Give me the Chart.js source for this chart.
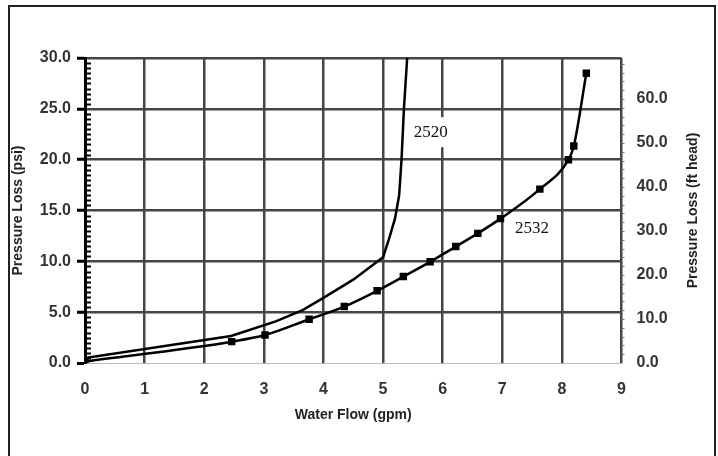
<!DOCTYPE html>
<html>
<head>
<meta charset="utf-8">
<script src="https://cdn.jsdelivr.net/npm/chart.js@4.4.1/dist/chart.umd.min.js"></script>
<style>
    html, body { margin: 0; padding: 0; background: #fff; }
    #wrap { position: relative; width: 718px; height: 456px; overflow: hidden; }
    #frame { position: absolute; left: 8px; top: 5px; width: 708px; height: 480px; border: 2px solid #222; box-sizing: border-box; }
    #chart { position: absolute; left: 0; top: 0; }
</style>
</head>
<body>
<div id="wrap">
    <div id="frame"></div>
    <canvas id="chart" width="718" height="456"></canvas>
</div>
<script>
// water flow (gpm) vs pressure loss (psi)
const flow2520 = [0, 2.45, 3.2, 3.65, 4.0, 4.5, 5.0, 5.1, 5.2, 5.27, 5.31, 5.35, 5.41];
const loss2520 = [0.5, 2.65, 4.1, 5.2, 6.4, 8.2, 10.4, 12.2, 14.2, 16.5, 20, 25, 30.5];

const flow2532 = [0, 2.46, 3.02, 3.76, 4.35, 4.9, 5.34, 5.79, 6.22, 6.59, 6.97, 7.63, 8.11, 8.2, 8.41];
const loss2532 = [0.15, 2.1, 2.75, 4.3, 5.55, 7.1, 8.5, 9.95, 11.45, 12.75, 14.2, 17.1, 20.0, 21.35, 28.5];

const seriesNames = ['2520', '2532'];
const nameAnchors = [[5.8, 22.7], [7.5, 13.25]];

const PSI_TO_FT = 2.31;
const psiMax = 30;

const sans = "'Liberation Sans', Arial, sans-serif";
const serif = "'Liberation Serif', 'Times New Roman', serif";

const toPoints = (xs, ys) => xs.map((x, i) => ({ x, y: ys[i] }));

const extras = {
    id: 'extras',
    afterDatasetsDraw(chart) {
        const { ctx, chartArea } = chart;
        const x = chart.scales.x, y = chart.scales.y, y2 = chart.scales.y2;
        ctx.save();

        // minor ticks on the left axis, every 0.5 psi
        ctx.strokeStyle = '#000';
        ctx.lineWidth = 2;
        for (let v = 0.5; v < psiMax; v += 0.5) {
            if (v % 5 === 0) continue;
            const py = Math.round(y.getPixelForValue(v)) + 0.5;
            ctx.beginPath();
            ctx.moveTo(chartArea.left, py);
            ctx.lineTo(chartArea.left + 6, py);
            ctx.stroke();
        }

        // minor ticks on the right axis, every 2 ft
        ctx.strokeStyle = '#777';
        ctx.lineWidth = 1;
        for (let v = 2; v < psiMax * PSI_TO_FT; v += 2) {
            const py = Math.round(y2.getPixelForValue(v)) + 0.5;
            ctx.beginPath();
            ctx.moveTo(chartArea.right, py);
            ctx.lineTo(chartArea.right + 3, py);
            ctx.stroke();
        }

        // series names
        ctx.font = '17px ' + serif;
        ctx.textAlign = 'center';
        ctx.textBaseline = 'middle';
        seriesNames.forEach((name, i) => {
            const px = x.getPixelForValue(nameAnchors[i][0]);
            const py = y.getPixelForValue(nameAnchors[i][1]);
            const w = ctx.measureText(name).width;
            ctx.fillStyle = '#fff';
            ctx.fillRect(px - w / 2 - 3, py - 15, w + 6, 30);
            ctx.fillStyle = '#111';
            ctx.fillText(name, px, py);
        });

        // right axis title, reading bottom to top
        ctx.font = 'bold 14px ' + sans;
        ctx.fillStyle = '#222';
        ctx.translate(y2.right - 25, (chartArea.top + chartArea.bottom) / 2);
        ctx.rotate(-Math.PI / 2);
        ctx.fillText('Pressure Loss (ft head)', 0, 0);
        ctx.restore();
    }
};

const tickFont = { family: sans, size: 16, weight: 'bold' };
const titleFont = { family: sans, size: 14, weight: 'bold' };

new Chart(document.getElementById('chart'), {
    type: 'line',
    data: {
        datasets: [
            {
                label: seriesNames[0],
                data: toPoints(flow2520, loss2520),
                borderColor: '#000',
                borderWidth: 2.5,
                pointRadius: 0,
                tension: 0
            },
            {
                label: seriesNames[1],
                data: toPoints(flow2532, loss2532),
                borderColor: '#000',
                backgroundColor: '#000',
                borderWidth: 2.5,
                pointStyle: 'rect',
                pointRadius: 3.5,
                cubicInterpolationMode: 'monotone'
            }
        ]
    },
    options: {
        responsive: false,
        animation: false,
        layout: { padding: { top: 58, left: 0, right: 0, bottom: 0 } },
        plugins: { legend: { display: false }, tooltip: { enabled: false } },
        scales: {
            x: {
                type: 'linear',
                min: 0,
                max: 9,
                ticks: { stepSize: 1, padding: 17, color: '#333', font: tickFont },
                grid: {
                    color: (c) => c.tick && c.tick.value === 0 ? 'rgba(0,0,0,0)' : '#454545',
                    lineWidth: 2.5,
                    drawTicks: false
                },
                border: { color: '#bbb', width: 1 },
                title: { display: true, text: 'Water Flow (gpm)', color: '#222', font: titleFont, padding: { top: 0, bottom: 32 } },
                afterFit: (s) => { s.height = 93; }
            },
            y: {
                position: 'left',
                min: 0,
                max: psiMax,
                ticks: { stepSize: 5, padding: 6, color: '#333', font: tickFont, callback: (v) => v.toFixed(1) },
                grid: {
                    color: (c) => c.tick && c.tick.value === 0 ? '#bbb' : '#454545',
                    lineWidth: (c) => c.tick && c.tick.value === 0 ? 1 : 2.5,
                    tickColor: '#000',
                    tickWidth: 3,
                    tickLength: 8
                },
                border: { color: '#000', width: 3 },
                title: { display: true, text: 'Pressure Loss (psi)', color: '#222', font: titleFont, padding: { top: 10, bottom: 0 } },
                afterFit: (s) => { s.width = 85; }
            },
            y2: {
                position: 'right',
                min: 0,
                max: psiMax * PSI_TO_FT,
                ticks: {
                    stepSize: 10,
                    includeBounds: false,
                    padding: 15,
                    color: '#333',
                    font: tickFont,
                    callback: (v) => v % 10 === 0 ? v.toFixed(1) : ''
                },
                grid: { drawOnChartArea: false, drawTicks: false },
                border: { display: false },
                afterFit: (s) => { s.width = 96.5; }
            }
        }
    },
    plugins: [extras]
});
</script>
</body>
</html>
